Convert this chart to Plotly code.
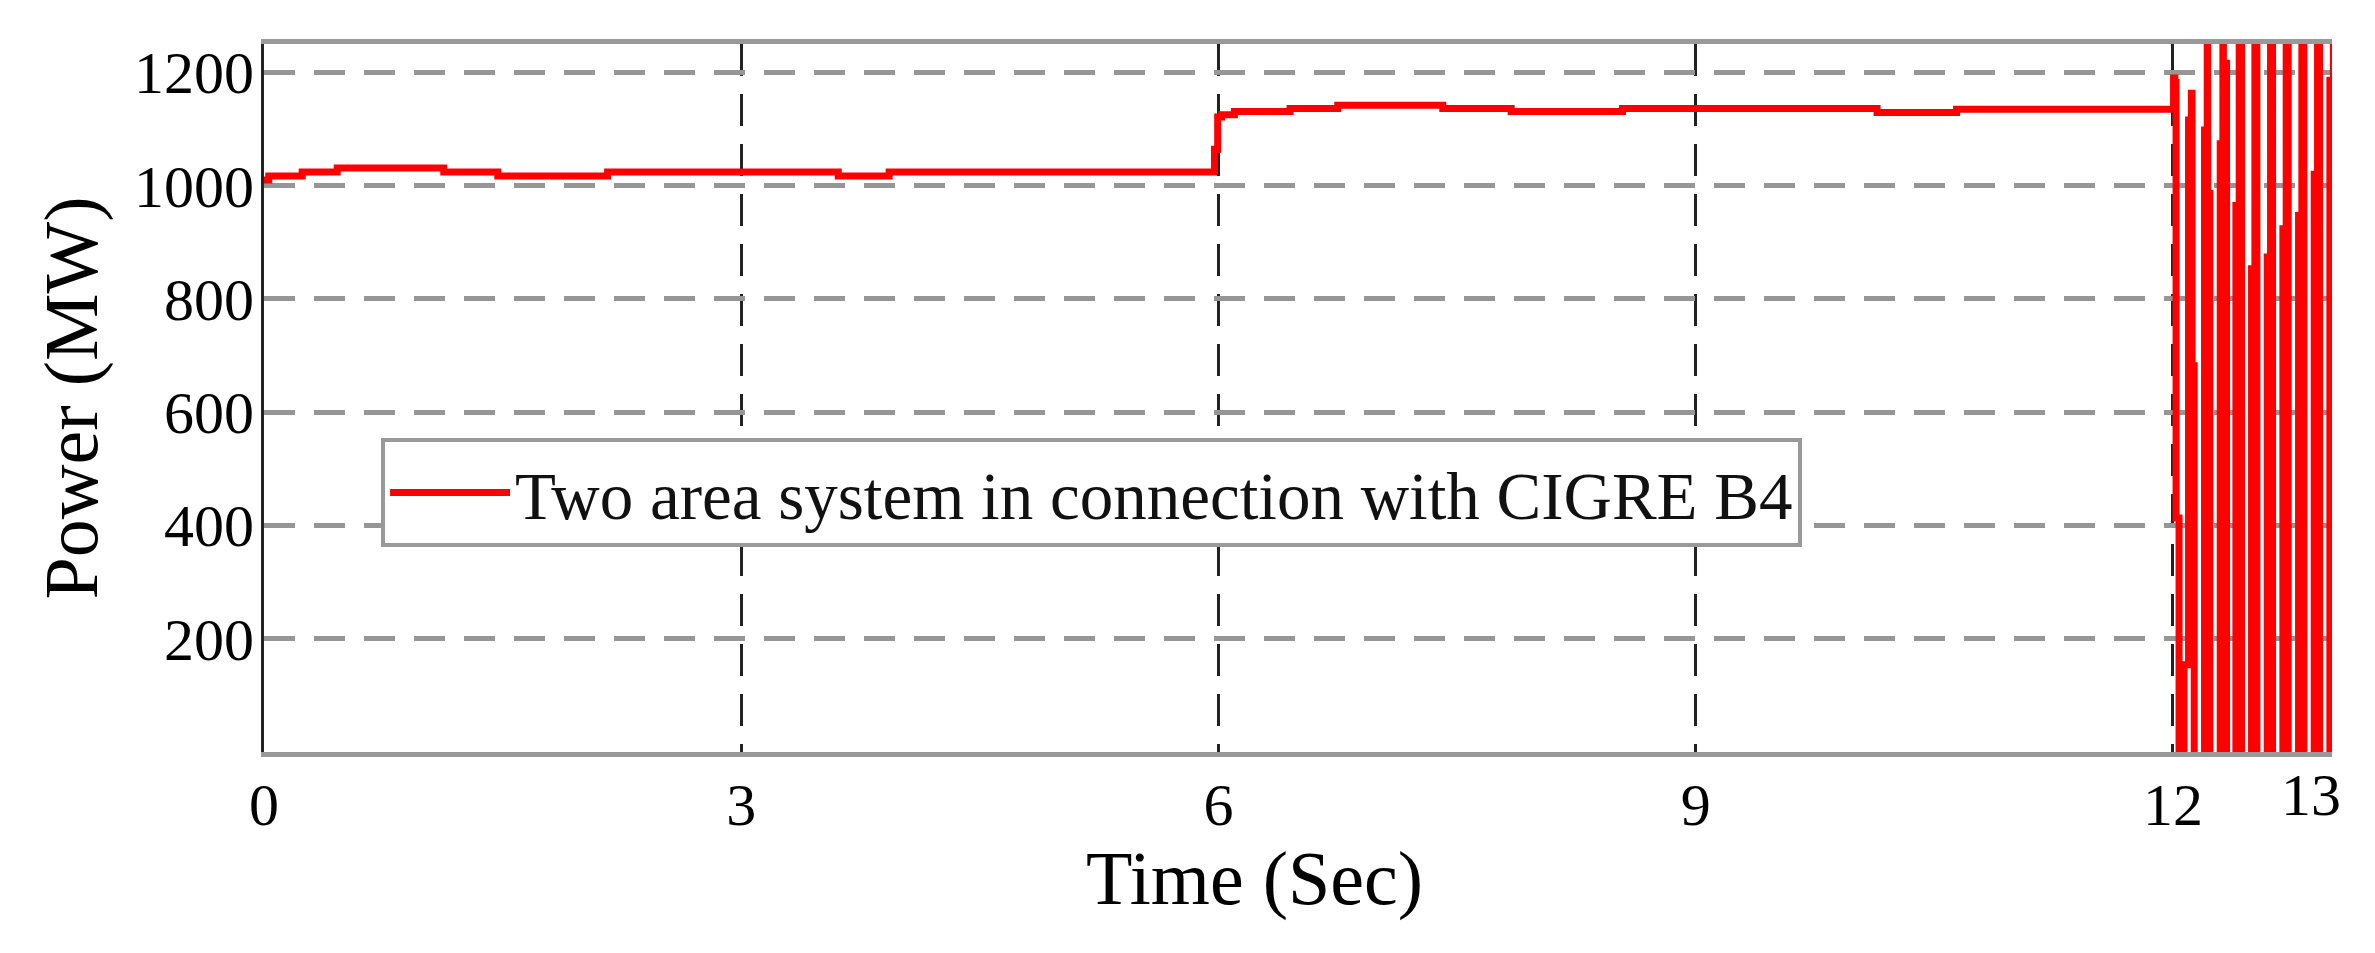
import plotly.graph_objects as go

# Time (s) at which each stepped sample starts
time_s = [0, 0.03, 0.24, 0.46, 1.13, 1.47, 2.16, 3.61, 3.93,
          5.975, 5.995, 6.02, 6.10, 6.45, 6.75, 7.41, 7.84, 8.54, 10.14, 10.64,
          12.0040, 12.0124, 12.0197, 12.0386, 12.0700, 12.0983, 12.1161, 12.1203, 12.1339,
          12.1988, 12.2156, 12.2187, 12.2324,
          12.2973, 12.3141, 12.3172, 12.3371,
          12.3958, 12.4167, 12.4314,
          12.4942, 12.5152, 12.5278,
          12.5927, 12.6137, 12.6262,
          12.6912, 12.7121, 12.7247,
          12.7897, 12.8106, 12.8232,
          12.8881, 12.9091, 12.9217,
          12.9866, 13.0086]

# Power (MW); values beyond the axis limits are clipped excursions
power_mw = [1010, 1017, 1024, 1031, 1024, 1017, 1024, 1017, 1024,
            1064, 1121, 1125, 1131, 1136, 1142, 1136, 1131, 1136, 1129, 1135,
            1190, 1182, 413, -100, 154, 1116, 1163, 682, -100,
            1098, 1400, 986, -100,
            1074, 1400, 1216, -100,
            965, 1400, -100,
            853, 1400, -100,
            874, 1400, -100,
            924, 1400, -100,
            947, 1400, -100,
            1020, 1400, -100,
            1186, 1400]

series_name = "Two area system in connection with CIGRE B4"
x_ticks = [0, 3, 6, 9, 12]
x_ticklabels = ["0", "3", "6", "9", "12"]
y_ticks = [200, 400, 600, 800, 1000, 1200]
y_ticklabels = ["200", "400", "600", "800", "1000", "1200"]
extra_x_label = "13"
extra_x_label_pos = 12.87
x_title = "Time (Sec)"
y_title = "Power (MW)"

FONT = "Liberation Serif, Times New Roman, serif"

fig = go.Figure()
fig.add_trace(go.Scatter(
    x=time_s, y=power_mw, mode="lines", name=series_name,
    line=dict(color="#ff0000", width=7, shape="hv", simplify=False),
))

fig.update_layout(
    width=2375, height=953,
    margin=dict(l=256, r=51, t=36, b=209),
    paper_bgcolor="white", plot_bgcolor="white",
    font=dict(family=FONT, color="black"),
    showlegend=True,
    legend=dict(
        x=0.0566, y=0.366, xanchor="left", yanchor="middle",
        bgcolor="white", bordercolor="#999999", borderwidth=4,
        font=dict(family=FONT, size=67, color="#111111"),
        itemwidth=120,
    ),
    xaxis=dict(
        range=[0, 13], tickmode="array", tickvals=x_ticks, ticktext=x_ticklabels,
        showgrid=True, gridcolor="#222222", gridwidth=3, griddash="32px,18px",
        showline=True, linecolor="#999999", linewidth=5, mirror=True,
        zeroline=False, ticks="", ticklabelstandoff=-4, automargin=False,
        tickfont=dict(family=FONT, size=60, color="black"),
    ),
    yaxis=dict(
        range=[0, 1250], tickmode="array", tickvals=y_ticks, ticktext=y_ticklabels,
        showgrid=True, gridcolor="#969696", gridwidth=5, griddash="31px,19px",
        showline=True, linecolor="#222222", linewidth=3, mirror=False,
        zeroline=False, ticks="", ticklabelstandoff=-5, automargin=False,
        tickfont=dict(family=FONT, size=60, color="black"),
        title=dict(text=y_title, font=dict(family=FONT, size=76, color="black"), standoff=12),
    ),
    annotations=[
        dict(
            x=extra_x_label_pos, xref="x", y=0, yref="paper",
            yanchor="top", xanchor="center", yshift=-8, showarrow=False,
            text=extra_x_label, font=dict(family=FONT, size=60, color="black"),
        ),
        dict(
            x=0.479, xref="paper", y=-0.178, yref="paper",
            yanchor="middle", xanchor="center", showarrow=False,
            text=x_title, font=dict(family=FONT, size=76, color="black"),
        ),
    ],
)

fig.write_html("out.html")
